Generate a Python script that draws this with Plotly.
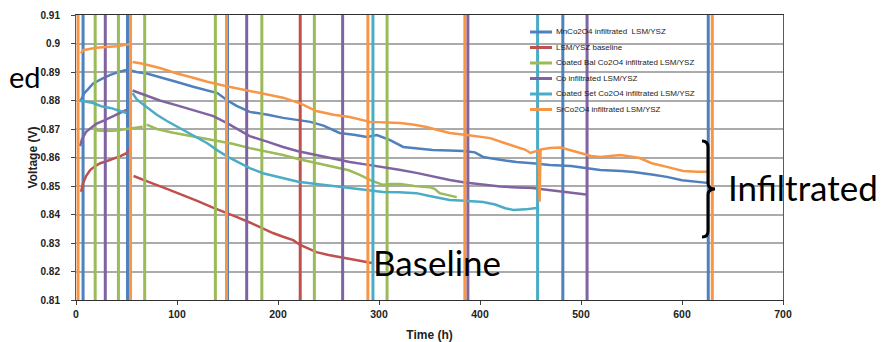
import plotly.graph_objects as go

# ---------------- data ----------------
series_names = [
    "MnCo2O4 infiltrated  LSM/YSZ",
    "LSM/YSZ baseline",
    "Coated Bal Co2O4 infiltrated LSM/YSZ",
    "Co infiltrated LSM/YSZ",
    "Coated Set Co2O4 infiltrated LSM/YSZ",
    "SrCo2O4 infiltrated LSM/YSZ",
]
series_colors = ["#4F81BD", "#C0504D", "#9BBB59", "#8064A2", "#4BACC6", "#F79646"]

blue_t = [4, 8, 12, 17, 25, 34, 42, 50, None,
          55, 60, 70, 83, 100, 116, 130, 140, 150, 159, 172, 190, 205, 220, 232, 245, 261, 275, 288,
          298, 311, 324, 340, 353, 370, 383, 395, 403, 420, 436, 452, 469, 490, 519, 540, 552, 570,
          585, 600, 612, 625]
blue_v = [0.8795, 0.8825, 0.884, 0.886, 0.8875, 0.889, 0.890, 0.8907, None,
          0.8905, 0.8900, 0.8895, 0.8883, 0.8865, 0.8848, 0.8835, 0.8826, 0.880, 0.8781, 0.876, 0.875,
          0.8739, 0.873, 0.8725, 0.8712, 0.8686, 0.868, 0.8672, 0.8679, 0.8661, 0.8637, 0.8630, 0.8626,
          0.8625, 0.8623, 0.8618, 0.8602, 0.8592, 0.8584, 0.858, 0.8574, 0.857, 0.8556, 0.8553, 0.8549,
          0.854, 0.8532, 0.852, 0.8515, 0.8511]

red_t = [5, 7, 10, 14, 19, 24, 30, 37, 44, 50, 53, None,
         57, 65, 75, 90, 105, 120, 135, 150, 160, 172, 185, 195, 205, 215, 222, 230, 238, 250, 262,
         271, 282, 293]
red_v = [0.848, 0.851, 0.8535, 0.8556, 0.857, 0.858, 0.8587, 0.8595, 0.8605, 0.8615, 0.863, None,
         0.8535, 0.8525, 0.851, 0.849, 0.847, 0.8448, 0.8425, 0.8405, 0.839, 0.8372, 0.835, 0.8335,
         0.8322, 0.831, 0.8293, 0.828, 0.8268, 0.8258, 0.825, 0.8245, 0.8238, 0.823]

green_t = [20, 30, 40, 50, 60, 66, None,
           70, 80, 95, 110, 125, 140, 155, 172, 190, 205, 220, 238, 250, 261, 270, 281, 292, 304, 312,
           321, 335, 350, 355, 360, 370, 377]
green_v = [0.8695, 0.8693, 0.8695, 0.870, 0.8703, 0.8708, None,
           0.8715, 0.870, 0.8688, 0.8678, 0.8668, 0.866, 0.8648, 0.8633, 0.862, 0.8609, 0.8595, 0.8581,
           0.8572, 0.8563, 0.8555, 0.8539, 0.852, 0.8504, 0.8507, 0.8507, 0.850, 0.8496, 0.849, 0.8475,
           0.8468, 0.8461]

purple_t = [4, 6, 10, 15, 20, 28, 35, 42, 50, None,
            56, 60, 70, 83, 100, 116, 136, 150, 160, 172, 190, 205, 220, 238, 255, 271, 288, 304, 320,
            337, 355, 370, 385, 403, 420, 437, 452, 470, 490, 505]
purple_v = [0.864, 0.8665, 0.869, 0.8705, 0.8718, 0.873, 0.8742, 0.8755, 0.8767, None,
            0.8835, 0.883, 0.8815, 0.880, 0.8783, 0.8767, 0.8745, 0.872, 0.870, 0.8675, 0.8655, 0.8637,
            0.8622, 0.8609, 0.8597, 0.8584, 0.8575, 0.8567, 0.8557, 0.8546, 0.8532, 0.8521, 0.8512,
            0.8504, 0.8498, 0.8495, 0.8493, 0.8485, 0.8475, 0.847]

cyan_t = [3, 8, 12, 17, 25, 34, 42, 50, None,
          56, 60, 65, 72, 80, 90, 100, 110, 120, 130, 140, 150, 160, 172, 185, 205, 220, 238, 255, 271,
          290, 304, 320, 337, 350, 370, 385, 403, 415, 425, 433, 445, 456]
cyan_v = [0.880, 0.8798, 0.8795, 0.8791, 0.878, 0.8774, 0.8765, 0.8756, None,
          0.8826, 0.8805, 0.879, 0.877, 0.875, 0.8728, 0.8708, 0.869, 0.8668, 0.865, 0.8625, 0.8603,
          0.8585, 0.8563, 0.8545, 0.8528, 0.8515, 0.8507, 0.850, 0.8493, 0.8485, 0.8479, 0.8478, 0.8475,
          0.8465, 0.8451, 0.8448, 0.8444, 0.8435, 0.8422, 0.8416, 0.8418, 0.8423]

orange_t = [5, 7, 12, 20, 30, 40, 48, 54, None,
            56, 65, 83, 100, 116, 130, 149, 165, 182, 195, 205, 222, 238, 255, 271, 291, 305, 321, 335,
            347, 360, 370, 387, 400, 410, 425, 436, 445, 450, 455, 458, 459, 460, 469, 480, 495, 510,
            519, 530, 539, 558, 570, 585, 601, 615, 625]
orange_v = [0.8965, 0.8977, 0.898, 0.8985, 0.8988, 0.899, 0.8995, 0.8998, None,
            0.8935, 0.893, 0.8914, 0.8895, 0.888, 0.8866, 0.885, 0.8838, 0.8825, 0.8815, 0.881, 0.879,
            0.8763, 0.875, 0.8742, 0.8725, 0.8722, 0.8721, 0.8715, 0.8707, 0.8695, 0.8686, 0.8679,
            0.8672, 0.8668, 0.865, 0.8637, 0.8627, 0.8616, 0.8622, 0.8625, 0.8445, 0.8628, 0.8633,
            0.8635, 0.862, 0.8605, 0.8602, 0.8606, 0.8609, 0.8598, 0.858, 0.8567, 0.8553, 0.855, 0.855]

# interruption events (voltage drops to 0 V, then open circuit ~1.05 V)
blue_spikes = [7, 51, 150, 482, 626]
red_spikes = [222]
green_spikes = [19, 42, 68, 138, 184, 236, 308]
purple_spikes = [29, 169, 264, 388, 506]
cyan_spikes = [294, 457]
orange_spikes = [2, 54, 149, 289, 385, 630]
SPIKE_LOW, SPIKE_HIGH = 0.0, 1.05

x_ticks = [0, 100, 200, 300, 400, 500, 600, 700]
x_tick_labels = ["0", "100", "200", "300", "400", "500", "600", "700"]
y_ticks = [0.81, 0.82, 0.83, 0.84, 0.85, 0.86, 0.87, 0.88, 0.89, 0.90, 0.91]
y_tick_labels = ["0.81", "0.82", "0.83", "0.84", "0.85", "0.86", "0.87", "0.88", "0.89", "0.9", "0.91"]

# ---------------- layout helpers ----------------
# the page body has an 8px margin, so the figure is drawn 8px in from the window corner
OFF = 8
W, H = 896 - OFF, 342 - OFF
L, R, T, B = 76, 783, 15, 300  # plot area in window pixels


def px_x(p):
    return (p - L) / (R - L)


def px_y(p):
    return 1 - (p - T) / (B - T)


all_t = [blue_t, red_t, green_t, purple_t, cyan_t, orange_t]
all_v = [blue_v, red_v, green_v, purple_v, cyan_v, orange_v]
all_spikes = [blue_spikes, red_spikes, green_spikes, purple_spikes, cyan_spikes, orange_spikes]

fig = go.Figure()
for name, col, ts, vs, sp in zip(series_names, series_colors, all_t, all_v, all_spikes):
    sx, sy = [], []
    for s in sp:
        sx += [s, s, None]
        sy += [SPIKE_LOW, SPIKE_HIGH, None]
    fig.add_trace(go.Scatter(x=sx, y=sy, mode="lines", line=dict(color=col, width=3),
                             showlegend=False, hoverinfo="skip"))
    fig.add_trace(go.Scatter(x=ts, y=vs, mode="lines", name=name,
                             line=dict(color=col, width=2.5), showlegend=False))

# custom compact legend
shapes = []
annotations = []
for i, (name, col) in enumerate(zip(series_names, series_colors)):
    yy = 32 + 15.5 * i
    shapes.append(dict(type="line", xref="paper", yref="paper",
                       x0=px_x(530), x1=px_x(552), y0=px_y(yy), y1=px_y(yy),
                       line=dict(color=col, width=3)))
    annotations.append(dict(text=name, xref="paper", yref="paper", x=px_x(554), y=px_y(yy),
                            xanchor="left", yanchor="middle", showarrow=False,
                            font=dict(family="Liberation Sans", size=8, color="#222222")))


def P(xp, yp):
    return f"{px_x(xp):.5f},{px_y(yp):.5f}"


bracket = ("M " + P(702, 141) + " Q " + P(708, 141) + " " + P(708, 147) +
           " L " + P(708, 183) + " Q " + P(708, 189) + " " + P(715, 189) +
           " Q " + P(708, 189) + " " + P(708, 195) + " L " + P(708, 231) +
           " Q " + P(708, 237) + " " + P(702, 237))
shapes.append(dict(type="path", xref="paper", yref="paper", path=bracket,
                   line=dict(color="black", width=3)))

big_font = dict(family="Lato", size=35, color="black")
annotations.append(dict(text="Infiltrated", xref="paper", yref="paper", x=px_x(726), y=px_y(187),
                        xanchor="left", yanchor="middle", showarrow=False, font=big_font))
annotations.append(dict(text="Baseline", xref="paper", yref="paper", x=px_x(371), y=px_y(262),
                        xanchor="left", yanchor="middle", showarrow=False, font=big_font))
annotations.append(dict(text="ed", xref="paper", yref="paper", x=px_x(8), y=px_y(76),
                        xanchor="left", yanchor="middle", showarrow=False, borderpad=0,
                        font=dict(family="Lato", size=29, color="black")))

fig.update_layout(
    width=W, height=H,
    margin=dict(l=L - OFF, r=W - (R - OFF), t=T - OFF, b=H - (B - OFF), autoexpand=False),
    paper_bgcolor="white", plot_bgcolor="white",
    showlegend=False,
    shapes=shapes, annotations=annotations,
    xaxis=dict(range=[0, 700], tickvals=x_ticks, ticktext=x_tick_labels, showgrid=False,
               zeroline=False, showline=True, linecolor="#303030", linewidth=1, mirror=True,
               ticks="outside", ticklen=4, tickcolor="#404040", automargin=False,
               tickfont=dict(family="Liberation Sans", size=10.5, color="#222222", weight="bold"),
               title=dict(text="<b>Time (h)</b>", standoff=12,
                          font=dict(family="Liberation Sans", size=12, color="#222222"))),
    yaxis=dict(range=[0.81, 0.91], tickvals=y_ticks, ticktext=y_tick_labels, showgrid=True,
               gridcolor="#ababab", gridwidth=1.5, zeroline=False, showline=True,
               linecolor="#5a5a5a", linewidth=1, mirror=True, automargin=False,
               ticks="outside", ticklen=4, tickcolor="#404040", ticklabelstandoff=9,
               tickfont=dict(family="Liberation Sans", size=10, color="#222222", weight="bold"),
               title=dict(text="<b>Voltage (V)</b>", standoff=0,
                          font=dict(family="Liberation Sans", size=12, color="#222222"))),
)

fig.write_html("out.html")
